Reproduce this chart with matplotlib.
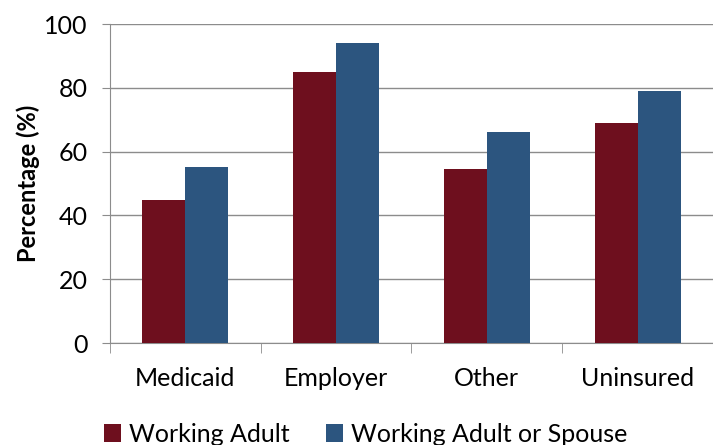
import numpy as np
import matplotlib.pyplot as plt

categories = ['Medicaid', 'Employer', 'Other', 'Uninsured']
working_adult = [45, 85, 54.5, 69]
working_adult_or_spouse = [55.3, 94, 66.2, 79]
series_labels = ['Working Adult', 'Working Adult or Spouse']
colors = ['#6E0F1E', '#2C557F']

plt.rcParams['font.family'] = ['Lato', 'DejaVu Sans']

fig = plt.figure(figsize=(7.13, 4.45), dpi=100)
ax = fig.add_axes([0.154, 0.229, 0.846, 0.717])

x = np.arange(len(categories))
w = 0.285
ax.bar(x - w / 2, working_adult, w, color=colors[0], label=series_labels[0], zorder=3)
ax.bar(x + w / 2, working_adult_or_spouse, w, color=colors[1], label=series_labels[1], zorder=3)

ax.set_xlim(-0.5, len(categories) - 0.5)
ax.set_ylim(0, 100)
ax.set_yticks(range(0, 101, 20))
ax.yaxis.grid(True, color='#8c8c8c', linewidth=1, zorder=0)

ax.set_xticks(x)
ax.set_xticklabels(categories, fontsize=18)
ax.set_xticks(np.arange(-0.5, len(categories), 1), minor=True)
ax.tick_params(axis='x', which='major', length=0, pad=17)
ax.tick_params(axis='x', which='minor', length=7, color='#8c8c8c')
ax.tick_params(axis='y', length=6, color='#8c8c8c', labelsize=18, pad=10)

for s in ['top', 'right']:
    ax.spines[s].set_visible(False)
for s in ['left', 'bottom']:
    ax.spines[s].set_color('#8c8c8c')

ax.set_ylabel('Percentage (%)', fontsize=17, fontweight='bold', labelpad=3)

ax.legend(loc='upper left', bbox_to_anchor=(-0.01, -0.25), ncol=2, frameon=False,
          fontsize=18, handlelength=0.7, handleheight=0.7, handletextpad=0.3,
          columnspacing=1.45, borderaxespad=0, borderpad=0)

fig.savefig('out.png', dpi=100)
